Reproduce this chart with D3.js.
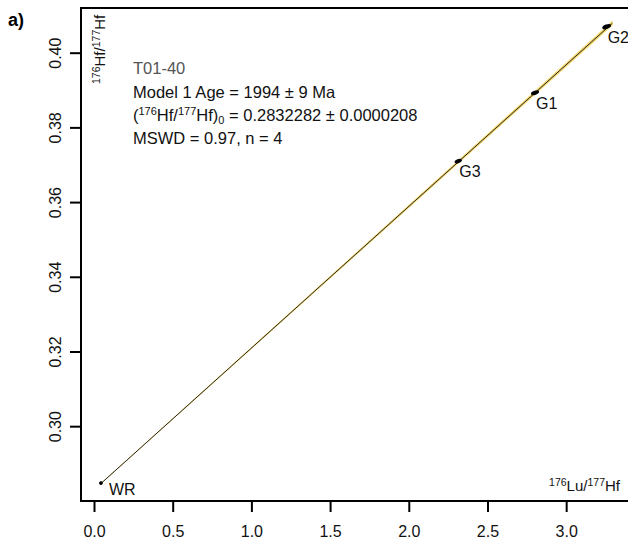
<!DOCTYPE html>
<html>
<head>
<meta charset="utf-8">
<script src="https://cdn.jsdelivr.net/npm/d3@7"></script>
<style>
  html, body { margin: 0; padding: 0; background: #fff; }
  svg { display: block; font-family: "Liberation Sans", Arial, sans-serif; }
</style>
</head>
<body>
<svg id="chart" width="628" height="545"></svg>
<script>
// Lu-Hf isochron, sample T01-40
const sampleLabels = ["WR", "G3", "G1", "G2"];
const luHf = [0.041, 2.311, 2.799, 3.254];       // 176Lu/177Hf
const hfHf = [0.2849, 0.3711, 0.3894, 0.4071];   // 176Hf/177Hf
const sLuHf = [0.012, 0.024, 0.027, 0.029];      // ellipse half-widths
const sHfHf = [0.0005, 0.00055, 0.00055, 0.0006];

const xTicks = [0.0, 0.5, 1.0, 1.5, 2.0, 2.5, 3.0];
const yTicks = [0.30, 0.32, 0.34, 0.36, 0.38, 0.40];

const sampleName = "T01-40";
const age = 1994, ageErr = 9;              // Ma
const initialRatio = 0.2832282, initialErr = 0.0000208;
const mswd = 0.97;
const lambdaLu = 1.867e-5;                 // per Ma

const svg = d3.select("#chart");

const plotLeft = 81, plotTop = 8, plotBottom = 501, plotRight = 637.5;
const x = d3.scaleLinear().domain([-0.0858, 3.45]).range([plotLeft, plotRight]);
const y = d3.scaleLinear().domain([0.2801, 0.4121]).range([plotBottom, plotTop]);

// isochron parameters
const slope = Math.exp(lambdaLu * age) - 1;
const slopeErr = lambdaLu * Math.exp(lambdaLu * age) * ageErr;
const xMin = d3.min(luHf), xMax = 3.29;

// error envelope
const envX = d3.range(0, 101).map(i => xMin + (xMax - xMin) * i / 100);
const halfW = v => Math.sqrt(initialErr * initialErr + (slopeErr * v) * (slopeErr * v));
const envPts = envX.map(v => [x(v), y(initialRatio + slope * v + halfW(v))])
  .concat(envX.slice().reverse().map(v => [x(v), y(initialRatio + slope * v - halfW(v))]));
svg.append("path")
  .attr("d", d3.line()(envPts) + "Z")
  .attr("fill", "#f4d870")
  .attr("stroke", "#f4d870")
  .attr("stroke-width", 0.6);

// isochron line
svg.append("line")
  .attr("x1", x(xMin)).attr("y1", y(initialRatio + slope * xMin))
  .attr("x2", x(xMax)).attr("y2", y(initialRatio + slope * xMax))
  .attr("stroke", "#111").attr("stroke-width", 0.9);

// data ellipses
const kx = Math.abs(x(1) - x(0)), ky = Math.abs(y(0) - y(1));
svg.append("g").selectAll("ellipse").data(luHf).join("ellipse")
  .attr("transform", (d, i) => `translate(${x(d)},${y(hfHf[i])}) rotate(-20)`)
  .attr("rx", (d, i) => sLuHf[i] * kx)
  .attr("ry", (d, i) => sHfHf[i] * ky)
  .attr("fill", "#000");

// point labels
svg.append("g").selectAll("text").data(sampleLabels).join("text")
  .attr("x", (d, i) => x(luHf[i]) + (d === "WR" ? 8 : 1))
  .attr("y", (d, i) => y(hfHf[i]) + (d === "WR" ? 12 : 16))
  .attr("font-size", 16).attr("fill", "#111")
  .text(d => d);

// frame
svg.append("rect")
  .attr("x", plotLeft).attr("y", plotTop)
  .attr("width", plotRight - plotLeft).attr("height", plotBottom - plotTop)
  .attr("fill", "none").attr("stroke", "#000").attr("stroke-width", 2);

// x axis
const xAxis = svg.append("g");
xAxis.selectAll("line").data(xTicks).join("line")
  .attr("x1", d => x(d)).attr("x2", d => x(d))
  .attr("y1", plotBottom).attr("y2", plotBottom + 11)
  .attr("stroke", "#000").attr("stroke-width", 2);
xAxis.selectAll("text").data(xTicks).join("text")
  .attr("x", d => x(d)).attr("y", 537)
  .attr("text-anchor", "middle").attr("font-size", 16).attr("fill", "#111")
  .text(d => d3.format(".1f")(d));

// y axis
const yAxis = svg.append("g");
yAxis.selectAll("line").data(yTicks).join("line")
  .attr("x1", plotLeft - 11).attr("x2", plotLeft)
  .attr("y1", d => y(d)).attr("y2", d => y(d))
  .attr("stroke", "#000").attr("stroke-width", 2);
yAxis.selectAll("text").data(yTicks).join("text")
  .attr("transform", d => `translate(61,${y(d)}) rotate(-90)`)
  .attr("text-anchor", "middle").attr("font-size", 16).attr("fill", "#111")
  .text(d => d3.format(".2f")(d));

// axis titles
const yTitle = svg.append("text")
  .attr("transform", "translate(105,84) rotate(-90)")
  .attr("font-size", 15).attr("fill", "#111");
yTitle.append("tspan").attr("font-size", 10.5).attr("dy", -5).text("176");
yTitle.append("tspan").attr("dy", 5).text("Hf/");
yTitle.append("tspan").attr("font-size", 10.5).attr("dy", -5).text("177");
yTitle.append("tspan").attr("dy", 5).text("Hf");

const xTitle = svg.append("text")
  .attr("x", 620).attr("y", 491).attr("text-anchor", "end")
  .attr("font-size", 15).attr("fill", "#111");
xTitle.append("tspan").attr("font-size", 10.5).attr("dy", -5).text("176");
xTitle.append("tspan").attr("dy", 5).text("Lu/");
xTitle.append("tspan").attr("font-size", 10.5).attr("dy", -5).text("177");
xTitle.append("tspan").attr("dy", 5).text("Hf");

// annotation block
const tx = 133;
svg.append("text").attr("x", tx).attr("y", 74)
  .attr("font-size", 16.5).attr("fill", "#555").text(sampleName);
svg.append("text").attr("x", tx).attr("y", 98)
  .attr("font-size", 16.5).attr("fill", "#111")
  .text(`Model 1 Age = ${age} \u00b1 ${ageErr} Ma`);
const ir = svg.append("text").attr("x", tx).attr("y", 121)
  .attr("font-size", 16.5).attr("fill", "#111");
ir.append("tspan").text("(");
ir.append("tspan").attr("font-size", 11).attr("dy", -6).text("176");
ir.append("tspan").attr("dy", 6).text("Hf/");
ir.append("tspan").attr("font-size", 11).attr("dy", -6).text("177");
ir.append("tspan").attr("dy", 6).text("Hf)");
ir.append("tspan").attr("font-size", 11).attr("dy", 3).text("0");
ir.append("tspan").attr("dy", -3).text(` = ${initialRatio.toFixed(7)} \u00b1 ${initialErr.toFixed(7)}`);
svg.append("text").attr("x", tx).attr("y", 144)
  .attr("font-size", 16.5).attr("fill", "#111")
  .text(`MSWD = ${mswd}, n = ${luHf.length}`);

// panel tag
svg.append("text").attr("x", 8).attr("y", 26)
  .attr("font-size", 18).attr("font-weight", "bold").attr("fill", "#000")
  .text("a)");
</script>
</body>
</html>
